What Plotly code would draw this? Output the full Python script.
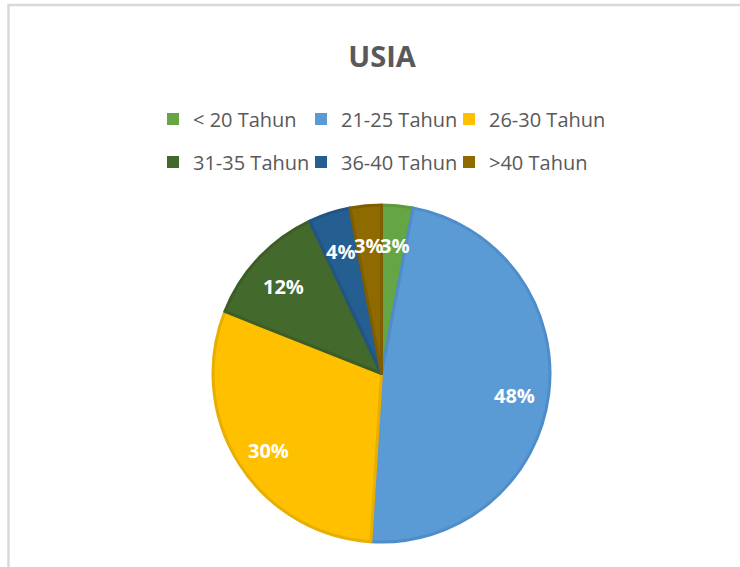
import math
import plotly.graph_objects as go

W, H = 740, 567

# ---- data ----
categories = ["< 20 Tahun", "21-25 Tahun", "26-30 Tahun", "31-35 Tahun", "36-40 Tahun", ">40 Tahun"]
values = [3, 48, 30, 12, 4, 3]
fill_colors = ["#66a544", "#5b9bd5", "#ffc000", "#44692c", "#255e91", "#8f6a00"]
edge_colors = ["#5c9a3c", "#4f8dca", "#e8ae00", "#3c5e26", "#215584", "#7f5e00"]
title_text = "USIA"

# pie placement in pixels
pie_left, pie_right, pie_top, pie_bottom = 213, 550, 205, 542

fig = go.Figure()

fig.add_trace(go.Pie(
    labels=categories,
    values=values,
    sort=False,
    direction="clockwise",
    rotation=0,
    textinfo="none",
    hoverinfo="label+percent",
    marker=dict(colors=fill_colors, line=dict(color=edge_colors, width=3)),
    domain=dict(x=[pie_left / W, pie_right / W], y=[1 - pie_bottom / H, 1 - pie_top / H]),
    showlegend=False,
))

# legend entries (two rows, as two legends)
for i, (cat, col) in enumerate(zip(categories, fill_colors)):
    fig.add_trace(go.Scatter(
        x=[None], y=[None], mode="markers", name=cat,
        marker=dict(symbol="square", size=12, color=col),
        legend="legend" if i < 3 else "legend2",
        hoverinfo="skip",
    ))
# invisible spacer entries so the last entry of each row is not clipped
for lg in ["legend", "legend2"]:
    fig.add_trace(go.Scatter(
        x=[None], y=[None], mode="markers", name="\u00a0",
        marker=dict(symbol="square", size=1, color="rgba(0,0,0,0)"),
        legend=lg, hoverinfo="skip",
    ))

# percentage labels placed along slice bisectors
total = sum(values)
cx = (pie_left + pie_right) / 2
cy = (pie_top + pie_bottom) / 2
R = (pie_right - pie_left) / 2
cum = 0
annotations = []
for v in values:
    theta = 2 * math.pi * (cum + v / 2) / total
    cum += v
    r = 0.795 * R
    px = cx + r * math.sin(theta)
    py = cy - r * math.cos(theta) + 5
    annotations.append(dict(
        x=px / W, y=1 - py / H, xref="paper", yref="paper",
        text=f"{v / total * 100:.0f}%", showarrow=False,
        font=dict(family="Open Sans", size=20, color="white", weight="bold"),
        xanchor="center", yanchor="middle",
    ))

legend_common = dict(
    orientation="h", xanchor="left", yanchor="middle",
    font=dict(family="Open Sans", size=20, color="#595959"),
    entrywidth=103, entrywidthmode="pixels",
    bgcolor="rgba(0,0,0,0)", borderwidth=0,
    itemclick=False, itemdoubleclick=False,
)

fig.update_layout(
    width=W, height=H,
    margin=dict(l=0, r=0, t=0, b=0, autoexpand=False),
    paper_bgcolor="white", plot_bgcolor="white",
    title=dict(text=title_text, x=382 / W, xanchor="center", y=1 - 56.5 / H, yanchor="middle",
               yref="paper", xref="paper",
               font=dict(family="Open Sans", size=29, color="#595959", weight="bold")),
    xaxis=dict(visible=False),
    yaxis=dict(visible=False),
    legend=dict(x=153 / W, y=1 - 119 / H, **legend_common),
    legend2=dict(x=153 / W, y=1 - 162 / H, **legend_common),
    annotations=annotations,
    shapes=[dict(type="rect", xref="paper", yref="paper",
                 x0=8.5 / W, x1=1.02, y0=-0.02, y1=1 - 5 / H,
                 line=dict(color="#d9d9d9", width=2.5), fillcolor="rgba(0,0,0,0)", layer="below")],
)

fig.write_html("out.html", config={"displayModeBar": False},
               post_script="document.body.style.margin='0';")
